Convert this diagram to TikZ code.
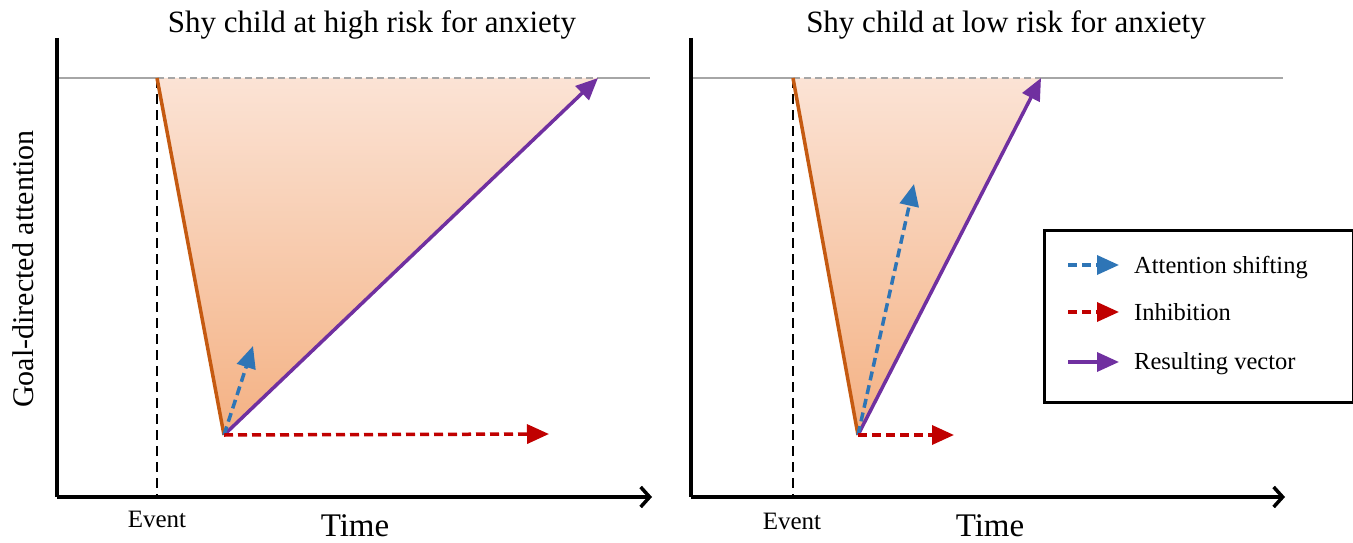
\documentclass[tikz,border=0pt]{standalone}
\usepackage{fontspec}
\setmainfont{Liberation Serif}
\usetikzlibrary{arrows.meta}
\definecolor{orng}{HTML}{C55A11}
\definecolor{purp}{HTML}{7030A0}
\definecolor{blu}{HTML}{2E75B6}
\definecolor{rd}{HTML}{C00000}
\definecolor{grayln}{HTML}{A6A6A6}
\definecolor{filltop}{HTML}{FBE3D5}
\definecolor{fillbot}{HTML}{F4B183}
\tikzset{
  axisline/.style={line width=3.5pt, black, -{Straight Barb[length=9pt,width=20pt,line width=3.5pt]}},
  axisplain/.style={line width=3.5pt, black},
  eventline/.style={line width=2.5pt, black, dash pattern=on 10pt off 6pt},
  baseline gray/.style={line width=2.5pt, grayln},
  topdash/.style={line width=2.5pt, grayln, dash pattern=on 7pt off 4pt},
  dropline/.style={line width=3.5pt, orng},
  resvec/.style={line width=3.5pt, purp, -{Triangle[length=22pt,width=19pt]}},
  shiftvec/.style={line width=3.5pt, blu, dash pattern=on 9pt off 5pt, -{Triangle[length=22pt,width=19pt]}},
  inhvec/.style={line width=3.5pt, rd, dash pattern=on 9pt off 5pt, -{Triangle[length=22pt,width=19pt]}},
  titletext/.style={font=\fontsize{31pt}{36pt}\selectfont, inner sep=0pt},
  eventtext/.style={font=\fontsize{25pt}{29pt}\selectfont, inner sep=0pt},
  timetext/.style={font=\fontsize{33pt}{38pt}\selectfont, inner sep=0pt},
  legtext/.style={font=\fontsize{24.5pt}{28pt}\selectfont, inner sep=0pt, anchor=base west},
}
\begin{document}
\begin{tikzpicture}[x=1pt,y=-1pt]
\useasboundingbox (0,0) rectangle (1353,543);
% ---------- left panel coordinates
\coordinate (O1) at (57,497);
\coordinate (Y1) at (57,38);
\coordinate (X1) at (652,497);
\coordinate (G1s) at (57,78);
\coordinate (G1e) at (650,78);
\coordinate (E1t) at (157,78);
\coordinate (E1b) at (157,497);
\coordinate (V1) at (224,435);
\coordinate (R1) at (598,78);
\coordinate (B1) at (253,346);
\coordinate (I1) at (549,434);
% ---------- right panel coordinates
\coordinate (O2) at (691,497);
\coordinate (Y2) at (691,38);
\coordinate (X2) at (1285,497);
\coordinate (G2s) at (691,78);
\coordinate (G2e) at (1283,78);
\coordinate (E2t) at (793,78);
\coordinate (E2b) at (793,497);
\coordinate (V2) at (858,435);
\coordinate (R2) at (1041,78);
\coordinate (B2) at (914,184);
\coordinate (I2) at (954,435);

% shaded triangles
\shade[top color=filltop, bottom color=fillbot] (E1t) -- (R1) -- (V1) -- cycle;
\shade[top color=filltop, bottom color=fillbot] (E2t) -- (R2) -- (V2) -- cycle;

% event lines
\draw[eventline] (E1t) -- (E1b);
\draw[eventline] (E2t) -- (E2b);

% baselines
\draw[baseline gray] (G1s) -- (E1t);
\draw[baseline gray] (R1) -- (G1e);
\draw[topdash] (E1t) -- (R1);
\draw[baseline gray] (G2s) -- (E2t);
\draw[baseline gray] (R2) -- (G2e);
\draw[topdash] (E2t) -- (R2);

% axes
\draw[axisplain] (Y1) -- (O1);
\draw[axisline] (O1) -- (X1);
\draw[axisplain] (Y2) -- (O2);
\draw[axisline] (O2) -- (X2);

% vectors
\draw[dropline] (E1t) -- (V1);
\draw[resvec] (V1) -- (R1);
\draw[shiftvec] (V1) -- (B1);
\draw[inhvec] (V1) -- (I1);
\draw[dropline] (E2t) -- (V2);
\draw[resvec] (V2) -- (R2);
\draw[shiftvec] (V2) -- (B2);
\draw[inhvec] (V2) -- (I2);

% texts
\node[titletext, anchor=base] (title1) at (372,33) {Shy child at high risk for anxiety};
\node[titletext, anchor=base] (title2) at (1006,33) {Shy child at low risk for anxiety};
\node[eventtext, anchor=base] (ev1) at (157,527) {Event};
\node[eventtext, anchor=base] (ev2) at (792,529) {Event};
\node[timetext, anchor=base] (time1) at (355,536) {Time};
\node[timetext, anchor=base] (time2) at (990,536) {Time};
\node[font=\fontsize{30pt}{34pt}\selectfont, inner sep=0pt, rotate=90, anchor=base] (ylab) at (33,269) {Goal-directed attention};

% legend
\node[draw, line width=2.5pt, minimum width=309pt, minimum height=172pt, anchor=north west, inner sep=0pt] (legend) at (1043,229) {};
\coordinate (La) at (1068,265);
\coordinate (Lb) at (1119,265);
\coordinate (Lc) at (1068,312);
\coordinate (Ld) at (1119,312);
\coordinate (Le) at (1068,362);
\coordinate (Lf) at (1119,362);
\draw[shiftvec] (La) -- (Lb);
\draw[inhvec] (Lc) -- (Ld);
\draw[resvec] (Le) -- (Lf);
\node[legtext] (l1) at (1134,273) {Attention shifting};
\node[legtext] (l2) at (1134,320) {Inhibition};
\node[legtext] (l3) at (1134,369) {Resulting vector};
\end{tikzpicture}
\end{document}
